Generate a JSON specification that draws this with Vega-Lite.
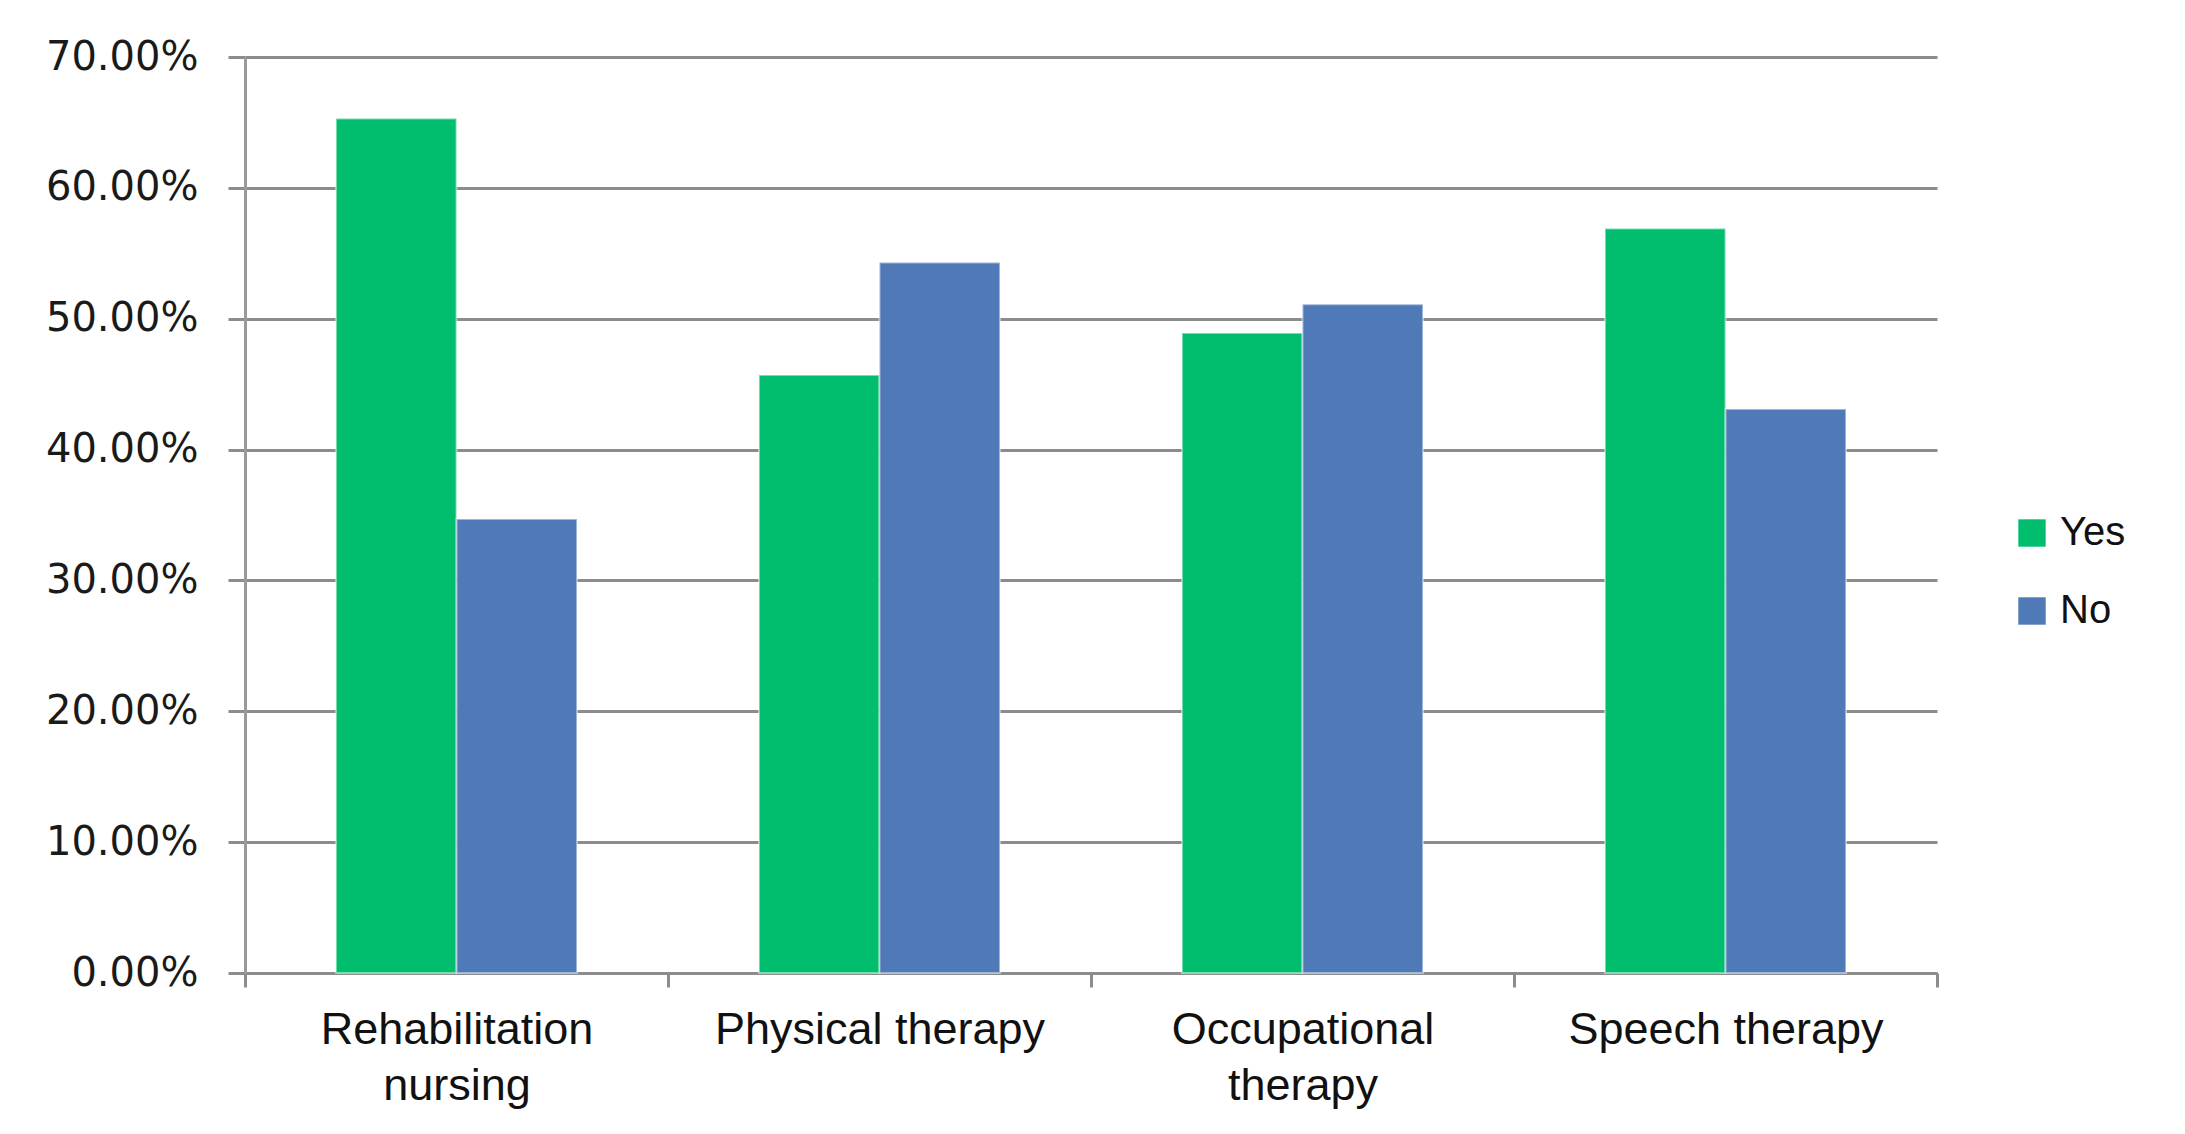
{
  "$schema": "https://vega.github.io/schema/vega-lite/v6.json",
  "autosize": {"type": "none"},
  "width": 1692,
  "height": 916,
  "padding": {"left": 245, "top": 57, "right": 248, "bottom": 161},
  "background": "white",
  "data": {
    "values": [
      {"category": "Rehabilitation nursing", "group": "Yes", "value": 0.653},
      {"category": "Rehabilitation nursing", "group": "No", "value": 0.347},
      {"category": "Physical therapy", "group": "Yes", "value": 0.457},
      {"category": "Physical therapy", "group": "No", "value": 0.543},
      {"category": "Occupational therapy", "group": "Yes", "value": 0.489},
      {"category": "Occupational therapy", "group": "No", "value": 0.511},
      {"category": "Speech therapy", "group": "Yes", "value": 0.569},
      {"category": "Speech therapy", "group": "No", "value": 0.431}
    ]
  },
  "mark": {"type": "bar", "stroke": "#ffffff", "strokeOpacity": 0.45, "strokeWidth": 2},
  "encoding": {
    "x": {
      "field": "category",
      "type": "nominal",
      "sort": ["Rehabilitation nursing", "Physical therapy", "Occupational therapy", "Speech therapy"],
      "scale": {"paddingInner": 0, "paddingOuter": 0},
      "axis": {
        "title": null,
        "labelAngle": 0,
        "tickBand": "extent",
        "domainColor": "#8c8c8c",
        "domainWidth": 3,
        "tickColor": "#8c8c8c",
        "tickWidth": 3,
        "tickSize": 14,
        "labelFont": "Liberation Sans",
        "labelFontSize": 45,
        "labelLimit": 0,
        "labelColor": "#111111",
        "labelPadding": 20,
        "labelLineHeight": 56,
        "labelBaseline": "top",
        "labelExpr": "datum.label == 'Rehabilitation nursing' ? ['Rehabilitation', 'nursing'] : datum.label == 'Occupational therapy' ? ['Occupational', 'therapy'] : datum.label"
      }
    },
    "xOffset": {
      "field": "group",
      "type": "nominal",
      "sort": ["Yes", "No"],
      "scale": {"paddingInner": 0, "paddingOuter": 0.755}
    },
    "y": {
      "field": "value",
      "type": "quantitative",
      "scale": {"domain": [0, 0.7], "nice": false},
      "axis": {
        "title": null,
        "values": [0, 0.1, 0.2, 0.3, 0.4, 0.5, 0.6, 0.7],
        "format": ".2%",
        "grid": true,
        "gridColor": "#8c8c8c",
        "gridWidth": 3,
        "domainColor": "#9a9a9a",
        "domainWidth": 3,
        "tickColor": "#8c8c8c",
        "tickWidth": 3,
        "tickSize": 17,
        "labelFont": "DejaVu Sans",
        "labelFontSize": 40,
        "labelColor": "#1a1a1a",
        "labelPadding": 30
      }
    },
    "color": {
      "field": "group",
      "type": "nominal",
      "sort": ["Yes", "No"],
      "scale": {"domain": ["Yes", "No"], "range": ["#00BE6E", "#4F7AB7"]},
      "legend": {
        "title": null,
        "orient": "none",
        "legendX": 1767,
        "legendY": 456,
        "symbolType": "square",
        "symbolSize": 750,
        "symbolStrokeWidth": 0,
        "labelFont": "Liberation Sans",
        "labelFontSize": 40,
        "labelColor": "#111111",
        "labelOffset": 8,
        "rowPadding": 38
      }
    }
  },
  "config": {"view": {"stroke": null}}
}
